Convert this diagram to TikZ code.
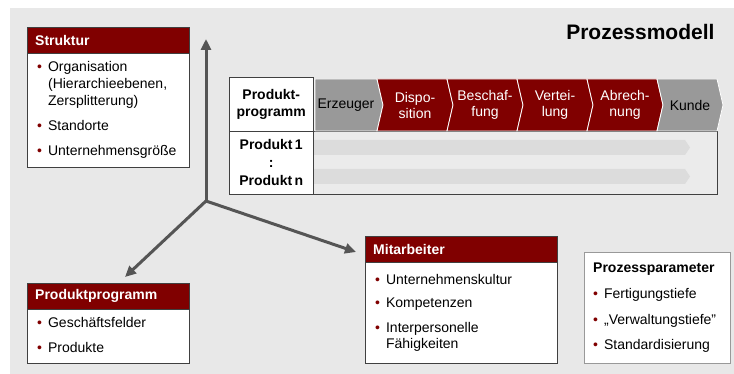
\documentclass[tikz,border=0pt]{standalone}
\usepackage{fontspec}
\setmainfont{Liberation Sans}
\usetikzlibrary{positioning,arrows.meta}

\definecolor{darkred}{RGB}{128,0,0}
\definecolor{bggray}{RGB}{232,232,232}
\definecolor{phasegray}{RGB}{153,153,153}
\definecolor{lanegray}{RGB}{235,235,235}
\definecolor{bargray}{RGB}{220,220,220}
\definecolor{axisgray}{RGB}{85,85,85}
\newcommand{\bul}{\textcolor{darkred}{\textbullet}}

\tikzset{
  txt/.style={font=\fontsize{14}{17}\selectfont},
  header/.style={fill=darkred, draw=black!75, text=white,
    font=\bfseries\fontsize{14}{17}\selectfont,
    anchor=north west, minimum height=26pt, inner xsep=8pt, inner ysep=0pt,
    text width=#1, align=left},
  body/.style={txt, fill=white, draw=black!75, anchor=north west,
    inner xsep=10pt, inner ysep=0pt, text width=#1, align=left},
  cell/.style={fill=white, draw=black!75, anchor=north west, align=center,
    minimum width=84pt, inner sep=0pt},
  axis/.style={draw=axisgray, line width=3pt, line cap=round,
    -{Triangle[length=11pt,width=10pt]}},
}

\begin{document}
\begin{tikzpicture}[x=1pt,y=-1pt]
\useasboundingbox (0,0) rectangle (734,374);
\fill[bggray] (10,8) rectangle (734,374);

% title
\node[font=\bfseries\fontsize{21}{25}\selectfont, anchor=east] (title) at (718,32) {Prozessmodell};

% axes
\coordinate (hub) at (206,201);
\coordinate (upTip) at (206,39);
\coordinate (leftTip) at (125,277);
\coordinate (rightTip) at (356,252);
\draw[axis] (hub) -- (upTip);
\draw[axis] (hub) -- (leftTip);
\draw[axis] (hub) -- (rightTip);

% Struktur
\node[header=146pt] (strukturHead) at (27,27) {Struktur};
\node[body=142pt, minimum height=114pt] (strukturList) at (strukturHead.south west) {%
  \begin{tabular}{@{}l@{\hspace{6pt}}l@{}}
  \bul & Organisation\\
       & (Hierarchieebenen,\\
       & Zersplitterung)\\[8pt]
  \bul & Standorte\\[8pt]
  \bul & Unternehmensgröße
  \end{tabular}};

% Produktprogramm
\node[header=146pt] (produktHead) at (27,283) {Produktprogramm};
\node[body=142pt, minimum height=54pt] (produktList) at (produktHead.south west) {%
  \begin{tabular}{@{}l@{\hspace{6pt}}l@{}}
  \bul & Geschäftsfelder\\[8pt]
  \bul & Produkte
  \end{tabular}};

% Mitarbeiter
\node[header=176pt] (mitarbeiterHead) at (365,236) {Mitarbeiter};
\node[body=172pt, minimum height=101pt] (mitarbeiterList) at (mitarbeiterHead.south west) {%
  \begin{tabular}{@{}l@{\hspace{6pt}}l@{}}
  \bul & Unternehmenskultur\\[7pt]
  \bul & Kompetenzen\\[7pt]
  \bul & Interpersonelle\\
       & Fähigkeiten
  \end{tabular}};

% Prozessparameter
\node[body=128pt, draw=black!40, inner xsep=9pt, minimum height=111pt] (paramList) at (584,252) {%
  \begin{tabular}{@{}l@{\hspace{6pt}}l@{}}
  \multicolumn{2}{@{}l@{}}{\textbf{Prozessparameter}}\\[9pt]
  \bul & Fertigungstiefe\\[9pt]
  \bul & „Verwaltungstiefe”\\[8pt]
  \bul & Standardisierung
  \end{tabular}};

% process table
\node[cell, minimum height=54pt, font=\bfseries\fontsize{14}{17}\selectfont] (progHead) at (229,77) {Produkt-\\programm};
\node[cell, minimum height=63pt, font=\bfseries\fontsize{14}{18}\selectfont] (progRows) at (229,131) {Produkt\,1\\:\\Produkt\,n};
\node[draw=black!75, fill=lanegray, anchor=north west, minimum width=404pt, minimum height=63pt, inner sep=0pt] (lanes) at (313,131) {};
\foreach \ya in {140,169}
  \fill[bargray] (314,\ya) -- (685,\ya) -- ++(5,7.5) -- (685,\ya+15) -- (314,\ya+15) -- cycle;

\foreach \xa/\xb/\n/\col/\tcol/\txt [count=\i] in {
    315/377/0/phasegray/black/Erzeuger,
    377/447/6/darkred/white/{Dispo-\\sition},
    447/517/6/darkred/white/{Beschaf-\\fung},
    517/587/6/darkred/white/{Vertei-\\lung},
    587/657/6/darkred/white/{Abrech-\\nung},
    657/717/6/phasegray/black/Kunde}
{
  \filldraw[fill=\col, draw=white, line width=0.8pt]
    (\xa,79) -- (\xb,79) -- ++(6,26) -- (\xb,131) -- (\xa,131) -- ++(\n,-26) -- cycle;
  \node[text=\tcol, align=center, inner sep=0pt, font=\fontsize{14}{16}\selectfont]
    (phase\i) at ({(\xa+\xb)/2+\n/2},105) {\txt};
}
\end{tikzpicture}
\end{document}
